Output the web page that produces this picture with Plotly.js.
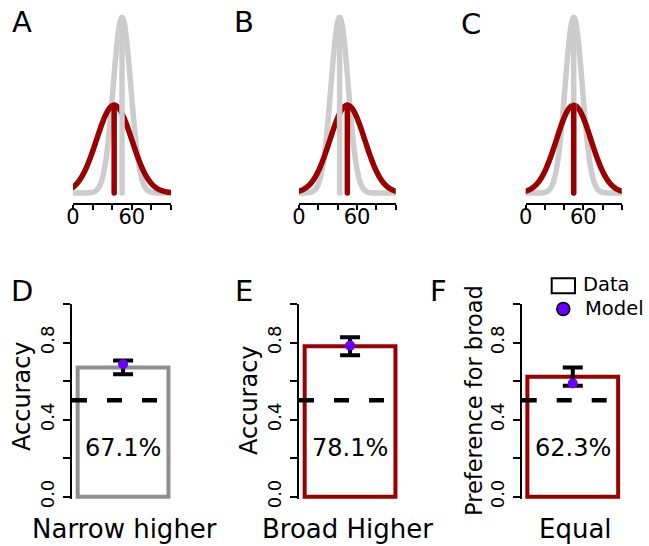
<!DOCTYPE html>
<html><head><meta charset="utf-8">
<script src="https://cdn.plot.ly/plotly-3.0.1.min.js"></script>
<style>html,body{margin:0;padding:0;background:#fff;} #chart{width:649px;height:546px;}
.scatterlayer .js-line{stroke-linecap:round;stroke-linejoin:round;}</style>
</head><body><div id="chart"></div>
<script>
// ---------- data ----------
const topLetters = ['A', 'B', 'C'];
const bottomLetters = ['D', 'E', 'F'];
const narrowMeans = [50, 42, 50];
const broadMeans = [42, 50, 50];
const narrowSDs = [9, 9, 9];
const broadSDs = [18, 18, 18];
const xTickVals = [0, 20, 40, 60, 80, 100];
const xTickText = ['0', '', '', '60', '', ''];

const categories = ['Narrow higher', 'Broad Higher', 'Equal'];
const dataValues = [0.671, 0.781, 0.623];
const dataErrors = [0.036, 0.047, 0.047];
const modelValues = [0.687, 0.784, 0.588];
const yTitles = ['Accuracy', 'Accuracy', 'Preference for broad'];
const chanceLevel = 0.5;
const yTickVals = [0, 0.2, 0.4, 0.6, 0.8, 1.0];
const yTickText = ['0.0', '', '0.4', '', '0.8', ''];
const legendLabels = ['Data', 'Model'];

// ---------- styles & layout geometry ----------
const W = 649, H = 546;
const RED = '#9a0000', GRAY = '#cccccc', BARGRAY = '#8f8f8f', PURPLE = '#6600ff';
const FONT = 'DejaVu Sans';
const barColors = [BARGRAY, RED, RED];
const fx = v => v / W;
const fy = v => (H - v) / H;
const topXDom = [[73, 171], [299, 395.7], [525.7, 621.7]];
const topYDom = [10, 203];
const botXDom = [[72, 173], [299, 400], [521.7, 622.7]];
const botYDom = [304, 499];

function pdf(x, m, s) { return Math.exp(-0.5 * ((x - m) / s) ** 2) / (s * Math.sqrt(2 * Math.PI)); }
const xs = [];
for (let x = 0; x <= 100; x += 0.5) xs.push(x);

// top y-range so that density 0 sits 10px above the axis line
const peakN = pdf(0, 0, narrowSDs[0]);
const ppu = (193 - 17.5) / peakN;
const topYRange = [-(203 - 193) / ppu, peakN + (17.5 - 10) / ppu];

const traces = [];
const layout = {
  width: W, height: H, margin: {l: 0, r: 0, t: 0, b: 0},
  paper_bgcolor: '#fff', plot_bgcolor: 'rgba(0,0,0,0)',
  showlegend: false, font: {family: FONT, color: '#000'},
  annotations: [], shapes: []
};

topLetters.forEach((L, i) => {
  const n = i + 1, xa = n === 1 ? 'x' : 'x' + n, ya = n === 1 ? 'y' : 'y' + n;
  const mN = narrowMeans[i], sN = narrowSDs[i], mB = broadMeans[i], sB = broadSDs[i];
  const ln = c => ({color: c, width: 5.5, simplify: false});
  traces.push({x: xs, y: xs.map(x => pdf(x, mN, sN)), mode: 'lines', line: ln(GRAY), xaxis: xa, yaxis: ya, hoverinfo: 'skip'});
  traces.push({x: xs, y: xs.map(x => pdf(x, mB, sB)), mode: 'lines', line: ln(RED), xaxis: xa, yaxis: ya, hoverinfo: 'skip'});
  traces.push({x: [mN, mN], y: [0, pdf(mN, mN, sN)], mode: 'lines', line: ln(GRAY), xaxis: xa, yaxis: ya, hoverinfo: 'skip'});
  traces.push({x: [mB, mB], y: [0, pdf(mB, mB, sB)], mode: 'lines', line: ln(RED), xaxis: xa, yaxis: ya, hoverinfo: 'skip'});
  layout['xaxis' + (n === 1 ? '' : n)] = {
    domain: [fx(topXDom[i][0]), fx(topXDom[i][1])], range: [0, 100], anchor: ya,
    showline: true, linewidth: 2, linecolor: '#000', ticks: 'outside', ticklen: 5, tickwidth: 2, tickcolor: '#000',
    tickvals: xTickVals, ticktext: xTickText, tickfont: {size: 21, family: FONT, color: '#000'}, ticklabelstandoff: -11,
    showgrid: false, zeroline: false, fixedrange: true
  };
  layout['yaxis' + (n === 1 ? '' : n)] = {
    domain: [fy(topYDom[1]), fy(topYDom[0])], range: topYRange, anchor: xa,
    visible: false, showgrid: false, zeroline: false, fixedrange: true
  };
});
const topLetterPos = [[21.7, 22.5], [244, 22.5], [471, 24]];
topLetters.forEach((L, i) => {
  layout.annotations.push({xref: 'paper', yref: 'paper', x: fx(topLetterPos[i][0]), y: fy(topLetterPos[i][1]),
    text: L, showarrow: false, xanchor: 'center', yanchor: 'middle', font: {size: 29, family: FONT, color: '#000'}});
});

const botLetterPos = [[22.5, 291], [244, 291], [438.5, 291]];
const yTitlePos = [[22, 396], [249, 400], [474, 401]];
const xLabelPos = [[124.6, 529], [347, 529], [575, 529]];
bottomLetters.forEach((L, i) => {
  const n = i + 4, xa = 'x' + n, ya = 'y' + n;
  traces.push({type: 'bar', x: [categories[i]], y: [dataValues[i]], width: 0.8, xaxis: xa, yaxis: ya,
    marker: {color: '#ffffff', line: {color: barColors[i], width: 4}},
    error_y: {type: 'data', array: [dataErrors[i]], visible: true, color: '#000', thickness: 4, width: 10},
    hoverinfo: 'skip'});
  traces.push({type: 'scatter', mode: 'markers', x: [categories[i]], y: [modelValues[i]], xaxis: xa, yaxis: ya,
    marker: {color: PURPLE, size: 10, line: {width: 0}}, hoverinfo: 'skip', cliponaxis: false});
  layout['xaxis' + n] = {
    domain: [fx(botXDom[i][0]), fx(botXDom[i][1])], type: 'category', range: [-0.45, 0.44], anchor: ya,
    visible: false, showgrid: false, zeroline: false, fixedrange: true
  };
  layout['yaxis' + n] = {
    domain: [fy(botYDom[1]), fy(botYDom[0])], range: [-0.012, 1], anchor: xa,
    showline: true, linewidth: 2, linecolor: '#000', ticks: 'outside', ticklen: 7, tickwidth: 2, tickcolor: '#000',
    tickvals: yTickVals, ticktext: yTickText, tickangle: -90, ticklabelstandoff: 2,
    tickfont: {size: 18, family: FONT, color: '#000'},
    showgrid: false, zeroline: false, fixedrange: true
  };
  layout.shapes.push({type: 'line', xref: xa + ' domain', yref: ya, x0: 0, x1: 1, y0: chanceLevel, y1: chanceLevel,
    line: {color: '#000', width: 4.5, dash: '15px,20px'}, layer: 'above'});
  layout.annotations.push({xref: xa, yref: ya, x: 0, y: 0.253, text: (dataValues[i] * 100).toFixed(1) + '%',
    showarrow: false, xanchor: 'center', yanchor: 'middle', font: {size: 24, family: FONT, color: '#000'}});
  layout.annotations.push({xref: 'paper', yref: 'paper', x: fx(botLetterPos[i][0]), y: fy(botLetterPos[i][1]),
    text: L, showarrow: false, xanchor: 'center', yanchor: 'middle', font: {size: 29, family: FONT, color: '#000'}});
  layout.annotations.push({xref: 'paper', yref: 'paper', x: fx(yTitlePos[i][0]), y: fy(yTitlePos[i][1]),
    text: yTitles[i], textangle: -90, showarrow: false, xanchor: 'center', yanchor: 'middle',
    font: {size: i === 2 ? 22.5 : 24, family: FONT, color: '#000'}});
  layout.annotations.push({xref: 'paper', yref: 'paper', x: fx(xLabelPos[i][0]), y: fy(xLabelPos[i][1]),
    text: categories[i], showarrow: false, xanchor: 'center', yanchor: 'middle', font: {size: 26, family: FONT, color: '#000'}});
});

// legend (drawn by hand, as in the reference)
layout.shapes.push({type: 'rect', xref: 'paper', yref: 'paper', x0: fx(551.7), x1: fx(575), y0: fy(293.3), y1: fy(278.3),
  line: {color: '#000', width: 2}, fillcolor: '#fff'});
layout.shapes.push({type: 'circle', xref: 'paper', yref: 'paper', x0: fx(556.8), x1: fx(569.8), y0: fy(315.5), y1: fy(302.5),
  line: {color: '#000', width: 1.5}, fillcolor: PURPLE});
layout.annotations.push({xref: 'paper', yref: 'paper', x: fx(581), y: fy(284.5), text: legendLabels[0], showarrow: false,
  xanchor: 'left', yanchor: 'middle', font: {size: 19.5, family: FONT, color: '#000'}});
layout.annotations.push({xref: 'paper', yref: 'paper', x: fx(583), y: fy(308), text: legendLabels[1], showarrow: false,
  xanchor: 'left', yanchor: 'middle', font: {size: 19.5, family: FONT, color: '#000'}});

Plotly.newPlot('chart', traces, layout, {staticPlot: true, displayModeBar: false});
</script></body></html>
